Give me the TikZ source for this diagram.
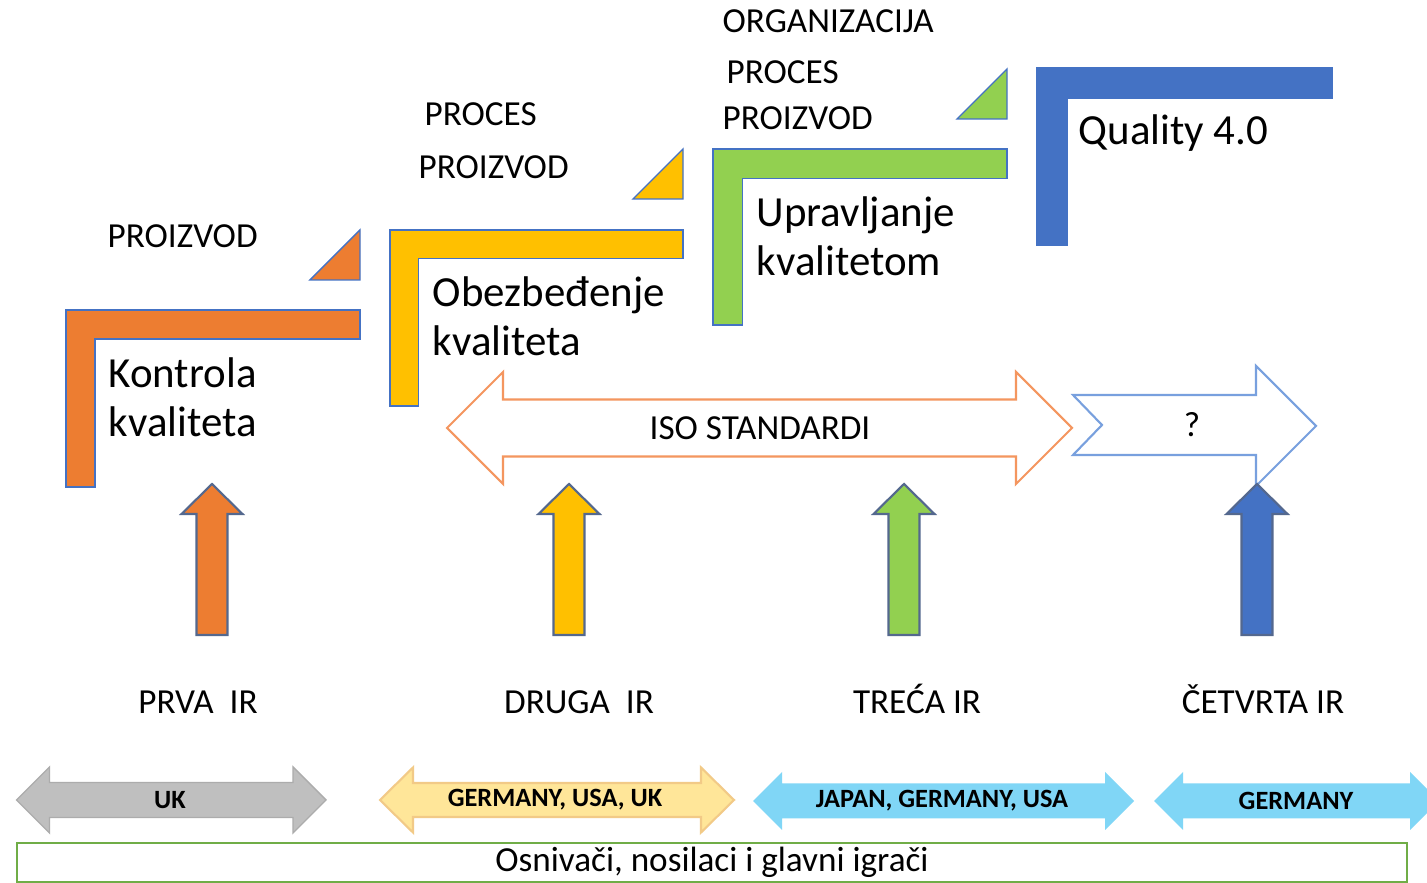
\documentclass[tikz,border=0pt]{standalone}
\usepackage{fontspec}
\setmainfont{Carlito}
\usetikzlibrary{positioning}
\definecolor{qorange}{RGB}{237,125,49}
\definecolor{qyellow}{RGB}{255,192,0}
\definecolor{qgreen}{RGB}{146,208,80}
\definecolor{qblue}{RGB}{68,114,196}
\definecolor{qupedge}{RGB}{84,104,142}
\definecolor{isoedge}{RGB}{244,150,95}
\definecolor{qmarkedge}{RGB}{120,160,222}
\definecolor{ukgray}{RGB}{191,191,191}
\definecolor{ukedge}{RGB}{172,172,172}
\definecolor{deyellow}{RGB}{255,230,153}
\definecolor{deedge}{RGB}{242,202,135}
\definecolor{jpblue}{RGB}{128,214,246}
\definecolor{boxgreen}{RGB}{112,173,71}
\tikzset{
  lbar/.style={draw=qblue, line width=0.4pt},
  corner/.style={draw=qblue, line width=0.4pt},
  uparrow/.style={draw=qupedge, line width=0.6pt},
  small/.style={font=\fontsize{10}{12}\selectfont, inner sep=0pt, anchor=base west},
  big/.style={font=\fontsize{12.2}{13.9}\selectfont, inner sep=0pt, align=left, anchor=west},
  stage/.style={font=\fontsize{10}{12}\selectfont, inner sep=0pt, anchor=base},
  country/.style={font=\fontsize{7.5}{9}\selectfont\bfseries, inner sep=0pt},
  footbox/.style={draw=boxgreen, line width=0.6pt, minimum width=13.9cm,
    minimum height=0.39cm, inner sep=0pt, font=\fontsize{10}{12}\selectfont},
}
% L bar: colour, left, top, right, bottom, thickness
\newcommand{\stageL}[6]{%
  \filldraw[lbar, fill=#1] (#2,#3) -- (#4,#3) -- (#4,#3+#6) -- (#2+#6,#3+#6)
    -- (#2+#6,#5) -- (#2,#5) -- cycle;}
% small corner triangle: colour, right, bottom
\newcommand{\stageTri}[3]{%
  \filldraw[corner, fill=#1] (#2-50,#3) -- (#2,#3-50) -- (#2,#3) -- cycle;}
% up arrow: colour, centre x
\newcommand{\stageUp}[2]{%
  \filldraw[uparrow, fill=#1] (#2,484) -- (#2+30.5,514) -- (#2+15.5,514) -- (#2+15.5,635)
    -- (#2-15.5,635) -- (#2-15.5,514) -- (#2-30.5,514) -- cycle;}
% double arrow: style, left tip, right tip, centre y, head length, half head, half shaft
\newcommand{\twoWay}[7]{%
  \path[#1] (#2,#4) -- (#2+#5,#4-#6) -- (#2+#5,#4-#7) -- (#3-#5,#4-#7) -- (#3-#5,#4-#6)
    -- (#3,#4) -- (#3-#5,#4+#6) -- (#3-#5,#4+#7) -- (#2+#5,#4+#7) -- (#2+#5,#4+#6) -- cycle;}

\begin{document}
\begin{tikzpicture}[x=0.01cm, y=-0.01cm]
    \clip (0,0) rectangle (1427,883);
    \fill[white] (0,0) rectangle (1427,883);

    \stageL{qorange}{66}{310}{360}{487}{29}
    \stageL{qyellow}{390}{230}{683}{406}{28.5}
    \stageL{qgreen}{713}{149}{1007}{325}{29.5}
    \stageL{qblue}{1037}{68}{1332}{245}{30.5}
    \stageTri{qorange}{360}{280}
    \stageTri{qyellow}{683}{199}
    \stageTri{qgreen}{1007}{119}

    \node[small] (proizvodA) at (107,248) {PROIZVOD};
    \node[small] (procesB) at (424,126) {PROCES};
    \node[small] (proizvodB) at (418,179) {PROIZVOD};
    \node[small] (orgC) at (722,33) {ORGANIZACIJA};
    \node[small] (procesC) at (726,84) {PROCES};
    \node[small] (proizvodC) at (722,130) {PROIZVOD};

    \node[big] (kontrola) at (108,397) {Kontrola\\kvaliteta};
    \node[big] (obezbedjenje) at (432,316) {Obezbeđenje\\kvaliteta};
    \node[big] (upravljanje) at (756,236) {Upravljanje\\kvalitetom};
    \node[big, anchor=base west] (quality) at (1078,145) {Quality 4.0};

    \twoWay{draw=isoedge, line width=0.6pt, fill=white}{447}{1072}{428}{56}{56}{28.5}
    \node[stage, anchor=center] (iso) at (760,428) {ISO STANDARDI};
    \filldraw[draw=qmarkedge, line width=0.6pt, fill=white] (1073,395) -- (1256,395) -- (1256,366)
      -- (1316,426) -- (1256,486) -- (1256,455) -- (1073,455) -- (1102,425) -- cycle;
    \node[stage, anchor=center] (qmark) at (1192,425) {?};

    \stageUp{qorange}{212}
    \stageUp{qyellow}{569}
    \stageUp{qgreen}{904}
    \stageUp{qblue}{1257}

    \node[stage] (prva) at (198,714) {PRVA\ \ IR};
    \node[stage] (druga) at (579,714) {DRUGA\ \ IR};
    \node[stage] (treca) at (917,714) {TREĆA IR};
    \node[stage] (cetvrta) at (1263,714) {ČETVRTA IR};

    \twoWay{draw=ukedge, line width=0.4pt, fill=ukgray}{16.5}{326}{800}{33}{33}{17.5}
    \twoWay{draw=deedge, line width=0.6pt, fill=deyellow}{380}{734}{800}{33}{32.5}{17}
    \twoWay{fill=jpblue}{753}{1134}{801}{29}{29}{17.5}
    \twoWay{fill=jpblue}{1154}{1439}{801}{29}{29}{17.5}
    \node[country] (uk) at (170,800) {UK};
    \node[country] (deusuk) at (555,800) {GERMANY, USA, UK};
    \node[country] (jpdeusa) at (942,801) {JAPAN, GERMANY, USA};
    \node[country] (de) at (1296,801) {GERMANY};

    \node[footbox] (foot) at (712,862.5) {Osnivači, nosilaci i glavni igrači};
\end{tikzpicture}
\end{document}
